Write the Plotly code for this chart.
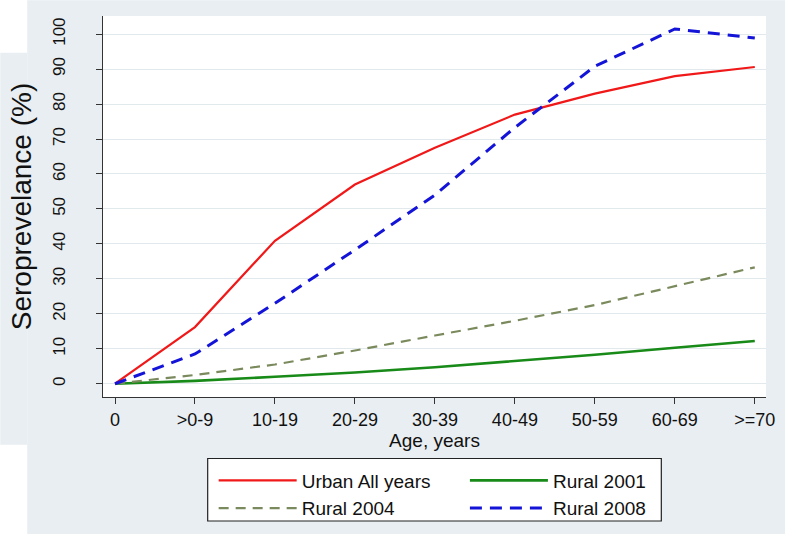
import plotly.graph_objects as go

# ---- data ----
age_groups = ["0", ">0-9", "10-19", "20-29", "30-39", "40-49", "50-59", "60-69", ">=70"]
urban_all = [0, 16.2, 40.9, 57.0, 67.5, 77.0, 83.0, 88.0, 90.6]
rural_2001 = [0, 0.8, 2.0, 3.2, 4.7, 6.4, 8.3, 10.3, 12.2]
rural_2004 = [0, 2.5, 5.5, 9.5, 13.8, 18.0, 22.5, 27.8, 33.3]
rural_2008 = [0, 8.5, 23.0, 38.3, 54.0, 73.3, 90.8, 101.5, 98.9]
y_ticks = [0, 10, 20, 30, 40, 50, 60, 70, 80, 90, 100]

W, H = 787, 540
ML, MR, MT, MB = 103, 19, 16, 140
PW, PH = W - ML - MR, H - MT - MB
BG = "#e8eef1"
FONT = "Liberation Sans, Arial, Helvetica, sans-serif"


def px_x(px):
    return (px - ML) / PW


def px_y(py):
    return (H - MB - py) / PH


fig = go.Figure()
fig.add_trace(go.Scatter(x=age_groups, y=urban_all, mode="lines", name="Urban All years",
                         line=dict(color="#f01818", width=2.2), legend="legend"))
fig.add_trace(go.Scatter(x=age_groups, y=rural_2001, mode="lines", name="Rural 2001",
                         line=dict(color="#188a18", width=2.6), legend="legend2"))
fig.add_trace(go.Scatter(x=age_groups, y=rural_2004, mode="lines", name="Rural 2004",
                         line=dict(color="#7a8a5c", width=2.2, dash="10px,7px"), legend="legend"))
fig.add_trace(go.Scatter(x=age_groups, y=rural_2008, mode="lines", name="Rural 2008",
                         line=dict(color="#1414d8", width=3, dash="12px,8px"), legend="legend2"))

shapes = [
    # background panel
    dict(type="rect", xref="paper", yref="paper", x0=px_x(27), x1=px_x(W), y0=px_y(0), y1=px_y(538),
         fillcolor=BG, line=dict(width=0), layer="below"),
    dict(type="rect", xref="paper", yref="paper", x0=px_x(0), x1=px_x(27), y0=px_y(53), y1=px_y(448),
         fillcolor=BG, line=dict(width=0), layer="below"),
    # plot area
    dict(type="rect", xref="paper", yref="paper", x0=0, x1=1, y0=0, y1=1,
         fillcolor="white", line=dict(width=0), layer="below"),
    # legend box
    dict(type="rect", xref="paper", yref="paper", x0=px_x(208), x1=px_x(663), y0=px_y(462), y1=px_y(525),
         fillcolor="white", line=dict(color="#222222", width=1.2), layer="below"),
]

legend_common = dict(bgcolor="rgba(0,0,0,0)", borderwidth=0, orientation="v",
                     font=dict(family=FONT, size=19, color="#111111"),
                     xanchor="left", yanchor="top", itemwidth=78, tracegroupgap=0,
                     itemclick=False)

fig.update_layout(
    width=W, height=H,
    margin=dict(l=ML, r=MR, t=MT, b=MB),
    paper_bgcolor="white",
    plot_bgcolor="white",
    font=dict(family=FONT, color="#111111"),
    shapes=shapes,
    showlegend=True,
    legend=dict(x=px_x(214), y=px_y(465), **legend_common),
    legend2=dict(x=px_x(466), y=px_y(465), **legend_common),
    xaxis=dict(
        type="category", range=[-0.15, 8.14],
        showgrid=False, zeroline=False,
        showline=True, linecolor="#333333", linewidth=1.3,
        ticks="outside", ticklen=6, tickcolor="#333333", tickwidth=1.3,
        tickfont=dict(family=FONT, size=18, color="#111111"),
        title=dict(text="Age, years", font=dict(family=FONT, size=19, color="#111111"), standoff=4),
    ),
    yaxis=dict(
        range=[-3.8, 105.2], tickvals=y_ticks,
        showgrid=True, gridcolor="#e2e9ed", gridwidth=1.2, zeroline=False,
        showline=True, linecolor="#333333", linewidth=1.3,
        ticks="outside", ticklen=6, tickcolor="#333333", tickwidth=1.3,
        tickangle=-90, ticklabelstandoff=24,
        tickfont=dict(family=FONT, size=17, color="#111111"),
        title=dict(text="Seroprevelance (%)", font=dict(family=FONT, size=28, color="#111111"), standoff=10),
    ),
)

fig.write_html("out.html", config={"displayModeBar": False},
               post_script="document.body.style.margin='0';")
